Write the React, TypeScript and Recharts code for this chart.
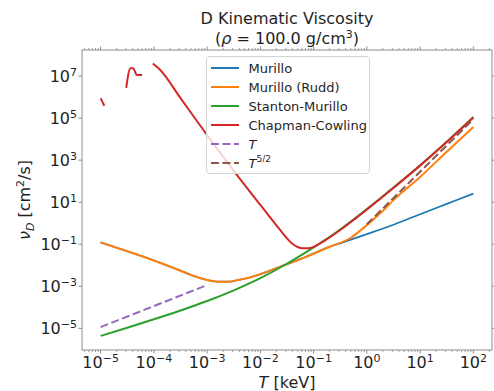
import { LineChart, Line, XAxis, YAxis, Legend } from "recharts";

const W = 494;
const H = 391;
const PLOT = { left: 82, top: 50, right: 492, bottom: 350 };
const FONT = "'DejaVu Sans', sans-serif";
const INK = "#1f1f1f";
const SPINE = "#8c8c8c";

// all values are log10: T in keV, nu_D in cm^2/s
const murilloLogT = [-5, -4.5, -4, -3.5, -3.25, -3, -2.8, -2.6, -2.4, -2.2, -2, -1.6, -1.2, -0.7, -0.45, 0, 0.25, 0.5, 1, 1.5, 2];
const murilloLogNu = [-0.91, -1.33, -1.77, -2.26, -2.51, -2.7, -2.78, -2.78, -2.69, -2.58, -2.42, -2.04, -1.66, -1.12, -0.91, -0.52, -0.3, -0.07, 0.43, 0.92, 1.41];

const ruddLogT = [-5, -4.5, -4, -3.5, -3.25, -3, -2.8, -2.6, -2.4, -2.2, -2, -1.6, -1.2, -0.7, -0.3, -0.1, 0, 0.25, 0.5, 1, 1.5, 2];
const ruddLogNu = [-0.91, -1.33, -1.77, -2.26, -2.51, -2.7, -2.78, -2.78, -2.69, -2.58, -2.42, -2.04, -1.66, -1.12, -0.69, -0.3, -0.09, 0.47, 1.1, 2.2, 3.4, 4.58];

const stantonLogT = [-5, -4.5, -4, -3.5, -3, -2.5, -2, -1.6, -1, -0.5, 0, 0.5, 1, 1.5, 2];
const stantonLogNu = [-5.36, -4.97, -4.57, -4.15, -3.7, -3.19, -2.61, -2.07, -1.15, -0.3, 0.67, 1.7, 2.76, 3.88, 5.05];

// Chapman-Cowling has gaps at low T, so it comes in three pieces
const chapmanALogT = [-5, -4.93];
const chapmanALogNu = [5.94, 5.59];
const chapmanBLogT = [-4.52, -4.44, -4.39, -4.32, -4.22];
const chapmanBLogNu = [6.44, 7.37, 7.37, 7.05, 7.05];
const chapmanCLogT = [-4.02, -3.88, -3.5, -3, -2.5, -2, -1.63, -1.5, -1.4, -1.3, -1.2, -1.1, -1, -0.9, -0.8, -0.5, 0, 0.5, 1, 1.5, 2];
const chapmanCLogNu = [7.6, 7.29, 5.95, 4.19, 2.49, 0.87, -0.32, -0.72, -0.98, -1.13, -1.19, -1.19, -1.13, -0.99, -0.84, -0.32, 0.65, 1.68, 2.74, 3.86, 5.03];

const linearRefLogT = [-5, -3];
const linearRefLogNu = [-4.94, -2.94];
const powerRefLogT = [0, 2];
const powerRefLogNu = [-0.05, 4.95];

const xTickExps = [-5, -4, -3, -2, -1, 0, 1, 2];
const yTickExps = [-5, -3, -1, 1, 3, 5, 7];
const X_DOMAIN = [10 ** -5.35, 10 ** 2.35];
const Y_DOMAIN = [10 ** -6.03, 10 ** 8.24];

const C = {
  murillo: "#1f77b4",
  rudd: "#ff7f0e",
  stanton: "#2ca02c",
  chapman: "#d62728",
  linear: "#9467bd",
  power: "#8c564b",
};

const pts = (lt: number[], ln: number[]) => lt.map((t, i) => ({ T: 10 ** t, nu: 10 ** ln[i] }));

// majors from xTickExps plus the usual 2..9 minor ticks of a log axis
const xTicks: number[] = [];
for (let e = -6; e <= 2; e++) {
  for (let m = 1; m <= 9; m++) {
    const v = m === 1 && xTickExps.includes(e) ? 10 ** e : m * 10 ** e;
    if (v >= X_DOMAIN[0] && v <= X_DOMAIN[1]) xTicks.push(v);
  }
}
const yTicks = yTickExps.map((e) => 10 ** e);

const expText = (e: number) => (e < 0 ? `\u2212${-e}` : `${e}`);

function XTick(props: any) {
  const { x, y, payload } = props;
  const lg = Math.log10(payload.value);
  const major = Math.abs(lg - Math.round(lg)) < 1e-6;
  const len = major ? 3.5 : 2;
  return (
    <g>
      <line x1={x} x2={x} y1={y} y2={y + len} stroke={SPINE} strokeWidth={major ? 1 : 0.8} />
      <line x1={x} x2={x} y1={PLOT.top} y2={PLOT.top - len} stroke={SPINE} strokeWidth={major ? 1 : 0.8} />
      {major && (
        <text x={x} y={y + 18} textAnchor="middle" fontFamily={FONT} fontSize={16} fill={INK}>
          10
          <tspan dy={-6.5} fontSize={11}>
            {expText(Math.round(lg))}
          </tspan>
        </text>
      )}
    </g>
  );
}

function YTick(props: any) {
  const { x, y, payload } = props;
  const e = Math.round(Math.log10(payload.value));
  return (
    <g>
      <line x1={x - 3.5} x2={x} y1={y} y2={y} stroke={SPINE} />
      <line x1={PLOT.right} x2={PLOT.right + 3.5} y1={y} y2={y} stroke={SPINE} />
      <text x={x - 5} y={y + 6} textAnchor="end" fontFamily={FONT} fontSize={16} fill={INK}>
        10
        <tspan dy={-6.5} fontSize={11}>
          {expText(e)}
        </tspan>
      </text>
    </g>
  );
}

const legendItems = [
  { key: "murillo", label: <span>Murillo</span>, dash: undefined },
  { key: "rudd", label: <span>Murillo (Rudd)</span>, dash: undefined },
  { key: "stanton", label: <span>Stanton-Murillo</span>, dash: undefined },
  { key: "chapman", label: <span>Chapman-Cowling</span>, dash: undefined },
  { key: "linear", label: <i>T</i>, dash: "8 3.5" },
  {
    key: "power",
    label: (
      <span>
        <i>T</i>
        <sup style={{ fontSize: 9, verticalAlign: 0, position: "relative", top: -6 }}>5/2</sup>
      </span>
    ),
    dash: "8 3.5",
  },
];

function LegendBox() {
  return (
    <div
      style={{
        boxSizing: "border-box",
        width: 164,
        height: 118,
        padding: "1.5px 0 0 3.5px",
        border: "1px solid #d4d4d4",
        borderRadius: 4,
        background: "rgba(255,255,255,0.8)",
        fontFamily: FONT,
        fontSize: 13,
        color: INK,
      }}
    >
      {legendItems.map((it) => (
        <div key={it.key} style={{ display: "flex", alignItems: "center", height: 19, whiteSpace: "nowrap" }}>
          <svg width={28} height={4} style={{ marginRight: 10, flex: "none" }}>
            <line
              x1={0}
              x2={28}
              y1={2}
              y2={2}
              stroke={C[it.key as keyof typeof C]}
              strokeWidth={2}
              strokeDasharray={it.dash}
            />
          </svg>
          {it.label}
        </div>
      ))}
    </div>
  );
}

export default function App() {
  const series = [
    { id: "murillo", data: pts(murilloLogT, murilloLogNu), color: C.murillo, width: 1.7 },
    { id: "rudd", data: pts(ruddLogT, ruddLogNu), color: C.rudd },
    { id: "stanton", data: pts(stantonLogT, stantonLogNu), color: C.stanton },
    { id: "chapmanA", data: pts(chapmanALogT, chapmanALogNu), color: C.chapman },
    { id: "chapmanB", data: pts(chapmanBLogT, chapmanBLogNu), color: C.chapman },
    { id: "chapmanC", data: pts(chapmanCLogT, chapmanCLogNu), color: C.chapman },
    { id: "linear", data: pts(linearRefLogT, linearRefLogNu), color: C.linear, dash: "8 3.5" },
    { id: "power", data: pts(powerRefLogT, powerRefLogNu), color: C.power, dash: "8 3.5" },
  ];

  return (
    <div style={{ position: "absolute", left: 0, top: 0, width: W, height: H, background: "#fff" }}>
      <LineChart
        width={W}
        height={H}
        margin={{ top: PLOT.top, right: W - PLOT.right, bottom: 0, left: 0 }}
      >
        <XAxis
          dataKey="T"
          type="number"
          scale="log"
          domain={X_DOMAIN}
          allowDataOverflow
          ticks={xTicks}
          interval={0}
          tick={<XTick />}
          tickLine={false}
          axisLine={false}
          tickSize={0}
          tickMargin={0}
          height={H - PLOT.bottom}
        />
        <YAxis
          dataKey="nu"
          type="number"
          scale="log"
          domain={Y_DOMAIN}
          allowDataOverflow
          ticks={yTicks}
          interval={0}
          tick={<YTick />}
          tickLine={false}
          axisLine={false}
          tickSize={0}
          tickMargin={0}
          width={PLOT.left}
        />
        {series.map((s) => (
          <Line
            key={s.id}
            data={s.data}
            dataKey="nu"
            type="monotone"
            stroke={s.color}
            strokeWidth={s.width ?? 2}
            strokeDasharray={s.dash}
            dot={false}
            activeDot={false}
            isAnimationActive={false}
          />
        ))}
        <Legend
          layout="vertical"
          align="center"
          verticalAlign="middle"
          wrapperStyle={{ left: 206, top: 56, width: 164, height: 118 }}
          content={() => <LegendBox />}
        />
      </LineChart>
      <svg
        width={W}
        height={H}
        style={{ position: "absolute", left: 0, top: 0, pointerEvents: "none" }}
        fontFamily={FONT}
        fill={INK}
      >
        <rect
          x={PLOT.left}
          y={PLOT.top}
          width={PLOT.right - PLOT.left}
          height={PLOT.bottom - PLOT.top}
          fill="none"
          stroke={SPINE}
          strokeWidth={1}
        />
        <text x={287} y={23.5} textAnchor="middle" fontSize={16}>
          D Kinematic Viscosity
        </text>
        <text x={287} y={44} textAnchor="middle" fontSize={16}>
          (<tspan fontStyle="italic">ρ</tspan> = 100.0 g/cm
          <tspan dy={-6.5} fontSize={11}>
            3
          </tspan>
          <tspan dy={6.5}>)</tspan>
        </text>
        <text x={287} y={388} textAnchor="middle" fontSize={16}>
          <tspan fontStyle="italic">T</tspan> [keV]
        </text>
        <text x={30} y={200} textAnchor="middle" fontSize={16} transform="rotate(-90 30 200)">
          <tspan fontStyle="italic">ν</tspan>
          <tspan dy={3.5} fontSize={11} fontStyle="italic">
            D
          </tspan>
          <tspan dy={-3.5}> [cm</tspan>
          <tspan dy={-6.5} fontSize={11}>
            2
          </tspan>
          <tspan dy={6.5}>/s]</tspan>
        </text>
      </svg>
    </div>
  );
}
